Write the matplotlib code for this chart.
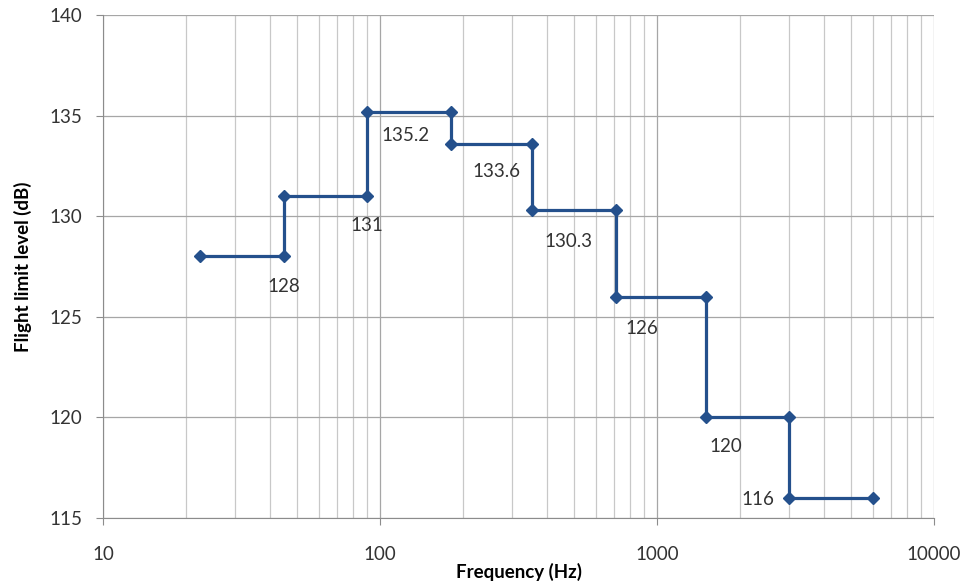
import numpy as np
import matplotlib.pyplot as plt
from matplotlib.ticker import FixedLocator, NullFormatter, LogLocator

# octave bands: edges (Hz) and flight limit level (dB)
band_lo = [22.4, 45, 90, 180, 355, 710, 1500, 3000]
band_hi = [45, 90, 180, 355, 710, 1500, 3000, 6000]
level = [128, 131, 135.2, 133.6, 130.3, 126, 120, 116]
labels = ["128", "131", "135.2", "133.6", "130.3", "126", "120", "116"]

# step line through all vertices
x = []
y = []
for lo, hi, v in zip(band_lo, band_hi, level):
    x += [lo, hi]
    y += [v, v]

plt.rcParams['font.family'] = ['Lato', 'DejaVu Sans']

fig = plt.figure(figsize=(9.67, 5.85), dpi=100)
ax = fig.add_axes([0.1065, 0.115, 0.8594, 0.8594])

col = '#24508c'
ax.plot(x, y, color=col, lw=2.3, marker='D', ms=6.5, zorder=3)

ax.set_xscale('log')
ax.set_xlim(10, 10000)
ax.set_ylim(115, 140)
ax.set_yticks(np.arange(115, 141, 5))
ax.xaxis.set_major_locator(FixedLocator([10, 100, 1000, 10000]))
ax.set_xticklabels(["10", "100", "1000", "10000"])
ax.xaxis.set_minor_locator(LogLocator(base=10, subs=np.arange(2, 10)))
ax.xaxis.set_minor_formatter(NullFormatter())

ax.grid(True, which='major', color='#a6a6a6', lw=0.9)
ax.grid(True, which='minor', axis='x', color='#c8c8c8', lw=0.9)
ax.set_axisbelow(True)

for s in ['top', 'right']:
    ax.spines[s].set_visible(False)
for s in ['left', 'bottom']:
    ax.spines[s].set_color('#8c8c8c')

ax.tick_params(axis='y', which='major', direction='out', length=5, color='#8c8c8c',
               labelsize=13.5, labelcolor='#333333', pad=10)
ax.tick_params(axis='x', which='major', direction='out', length=5, color='#8c8c8c',
               labelsize=13.5, labelcolor='#333333', pad=15)
ax.tick_params(axis='x', which='minor', length=0)

ax.set_xlabel("Frequency (Hz)", fontsize=13.5, fontweight='bold', labelpad=0)
ax.set_ylabel("Flight limit level (dB)", fontsize=13.5, fontweight='bold', labelpad=12)

# label anchor point index in the vertex list and pixel offsets
anchor = [1, 3, 4, 6, 8, 10, 12, 14]
offs = [(0, -30), (0, -30), (38, -24), (46, -28), (36, -31), (26, -32), (20, -29), (-31, -2)]
for i, t, (dx, dy) in zip(anchor, labels, offs):
    ax.annotate(t, (x[i], y[i]), xytext=(dx * 0.72, dy * 0.72), textcoords='offset points',
                ha='center', va='center', fontsize=13.5, color='#333333')

fig.savefig("out.png", dpi=100)
